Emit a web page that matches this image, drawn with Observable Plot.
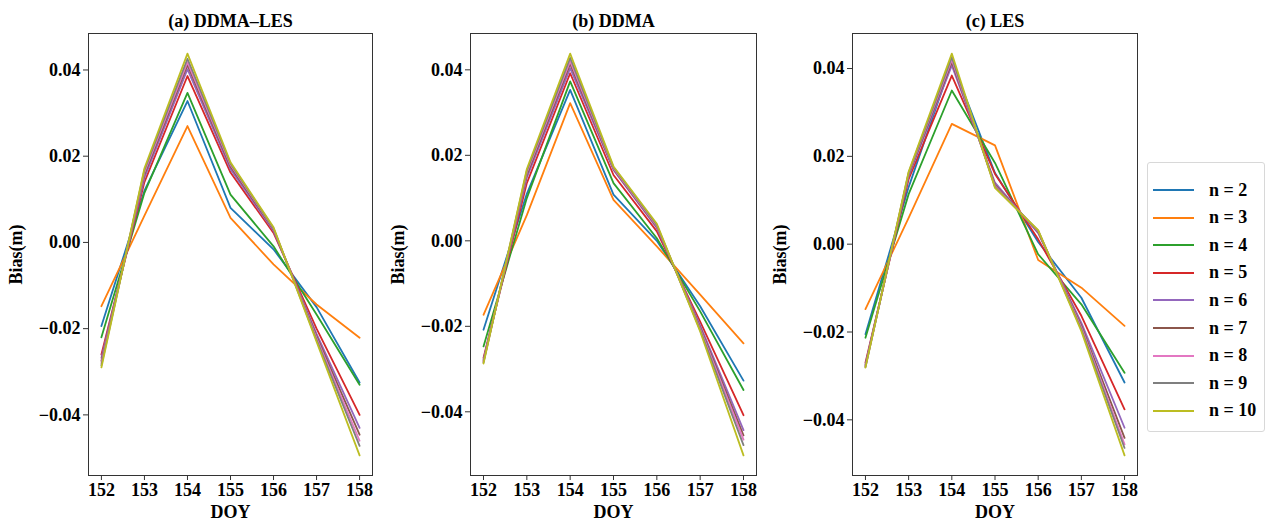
<!DOCTYPE html>
<html>
<head>
<meta charset="utf-8">
<script src="https://cdn.jsdelivr.net/npm/d3@7"></script>
<script src="https://cdn.jsdelivr.net/npm/@observablehq/plot@0.6"></script>
<style>
  html, body { margin: 0; padding: 0; background: #fff; overflow: hidden; }
  #root { position: relative; width: 1267px; height: 522px; font-family: "Liberation Serif", "DejaVu Serif", serif; font-weight: bold; }
  .panel { position: absolute; top: 0; }
  #legend { position: absolute; left: 1147px; top: 162px; width: 118px; height: 270px; border: 1px solid #d8d8d8; border-radius: 3px; background: #fff; box-sizing: border-box; }
  .entry { position: absolute; left: 0; height: 20px; display: flex; align-items: center; font-size: 18px; }
  .swatch { width: 41px; height: 2px; margin-left: 5px; margin-right: 15px; }
</style>
</head>
<body>
<div id="root"></div>
<script>
// ---- data ----
const doy = [152, 153, 154, 155, 156, 157, 158];
const nLabels = ["n = 2", "n = 3", "n = 4", "n = 5", "n = 6", "n = 7", "n = 8", "n = 9", "n = 10"];
const colors = ["#1f77b4", "#ff7f0e", "#2ca02c", "#d62728", "#9467bd", "#8c564b", "#e377c2", "#7f7f7f", "#bcbd22"];
const panelTitles = ["(a) DDMA\u2013LES", "(b) DDMA", "(c) LES"];
const yTicks = [-0.04, -0.02, 0, 0.02, 0.04];

// Bias per n (rows: n=2..10), columns: DOY 152..158
const ddmaLes = [
  [-0.0194, 0.0120, 0.0328, 0.0080, -0.0016, -0.0150, -0.0325],
  [-0.0148, 0.0062, 0.0270, 0.0057, -0.0051, -0.0144, -0.0221],
  [-0.0220, 0.0115, 0.0347, 0.0111, -0.0009, -0.0167, -0.0330],
  [-0.0260, 0.0140, 0.0386, 0.0162, 0.0022, -0.0200, -0.0400],
  [-0.0268, 0.0150, 0.0402, 0.0170, 0.0027, -0.0212, -0.0430],
  [-0.0275, 0.0158, 0.0412, 0.0176, 0.0030, -0.0218, -0.0446],
  [-0.0280, 0.0163, 0.0418, 0.0180, 0.0032, -0.0222, -0.0460],
  [-0.0285, 0.0168, 0.0426, 0.0183, 0.0033, -0.0226, -0.0472],
  [-0.0290, 0.0172, 0.0438, 0.0186, 0.0035, -0.0230, -0.0494]
];
const ddma = [
  [-0.0208, 0.0110, 0.0353, 0.0108, 0.0000, -0.0153, -0.0327],
  [-0.0173, 0.0060, 0.0322, 0.0096, -0.0013, -0.0126, -0.0240],
  [-0.0247, 0.0100, 0.0373, 0.0135, 0.0006, -0.0165, -0.0349],
  [-0.0274, 0.0135, 0.0392, 0.0154, 0.0022, -0.0189, -0.0408],
  [-0.0278, 0.0148, 0.0404, 0.0166, 0.0030, -0.0198, -0.0443],
  [-0.0281, 0.0155, 0.0414, 0.0168, 0.0033, -0.0203, -0.0455],
  [-0.0283, 0.0160, 0.0420, 0.0170, 0.0035, -0.0206, -0.0465],
  [-0.0285, 0.0164, 0.0428, 0.0172, 0.0037, -0.0209, -0.0478],
  [-0.0287, 0.0168, 0.0438, 0.0174, 0.0040, -0.0212, -0.0502]
];
const les = [
  [-0.0205, 0.0130, 0.0415, 0.0162, 0.0005, -0.0122, -0.0315],
  [-0.0148, 0.0060, 0.0274, 0.0225, -0.0036, -0.0099, -0.0186],
  [-0.0213, 0.0114, 0.0350, 0.0185, -0.0023, -0.0137, -0.0293],
  [-0.0270, 0.0148, 0.0384, 0.0160, 0.0011, -0.0163, -0.0376],
  [-0.0274, 0.0155, 0.0407, 0.0140, 0.0025, -0.0179, -0.0418],
  [-0.0277, 0.0158, 0.0415, 0.0135, 0.0028, -0.0186, -0.0441],
  [-0.0279, 0.0161, 0.0420, 0.0132, 0.0030, -0.0190, -0.0456],
  [-0.0280, 0.0163, 0.0426, 0.0130, 0.0031, -0.0194, -0.0464],
  [-0.0281, 0.0165, 0.0434, 0.0128, 0.0032, -0.0198, -0.0481]
];
const panelData = [ddmaLes, ddma, les];

// ---- layout (frame placement) ----
const frames = [
  {left: 88, width: 284},
  {left: 470, width: 286},
  {left: 852, width: 285}
];
const ML = 88;

const root = document.getElementById("root");

panelData.forEach((series, i) => {
  const rows = [];
  series.forEach((vals, s) => vals.forEach((v, j) => rows.push({doy: doy[j], bias: v, n: nLabels[s]})));
  const all = rows.map(d => d.bias);
  const lo = d3.min(all), hi = d3.max(all), pad = (hi - lo) * 0.05;
  const xlo = d3.min(doy), xhi = d3.max(doy), xpad = (xhi - xlo) * 0.05;

  const chart = Plot.plot({
    width: ML + frames[i].width + 2,
    height: 522,
    marginTop: 33,
    marginBottom: 47,
    marginLeft: ML,
    marginRight: 2,
    style: {fontFamily: "'Liberation Serif', serif", fontWeight: "bold", fontSize: "18px", color: "#000", background: "transparent", overflow: "visible"},
    x: {domain: [xlo - xpad, xhi + xpad]},
    y: {domain: [lo - pad, hi + pad]},
    color: {domain: nLabels, range: colors},
    marks: [
      Plot.line(rows, {x: "doy", y: "bias", z: "n", stroke: "n", strokeWidth: 1.8}),
      Plot.frame({stroke: "#333", strokeWidth: 1}),
      Plot.axisX({ticks: doy, tickFormat: d => String(d), tickSize: 5, tickPadding: 3, stroke: "#333",
        label: "DOY", labelAnchor: "center", labelArrow: "none", labelOffset: 42}),
      Plot.axisY({ticks: yTicks, tickFormat: d3.format(".2f"), tickSize: 5, tickPadding: 3, stroke: "#333",
        label: "Bias(m)", labelAnchor: "center", labelArrow: "none", labelOffset: 79}),
      Plot.text([panelTitles[i]], {frameAnchor: "top", dy: -19, fontSize: 18, fontWeight: "bold", fill: "#000"})
    ]
  });
  chart.classList.add("panel");
  chart.style.left = (frames[i].left - ML) + "px";
  root.appendChild(chart);
});

// ---- legend ----
const legend = document.createElement("div");
legend.id = "legend";
nLabels.forEach((lab, k) => {
  const e = document.createElement("div");
  e.className = "entry";
  e.style.top = (17 + k * 27.6) + "px";
  const sw = document.createElement("div");
  sw.className = "swatch";
  sw.style.background = colors[k];
  const t = document.createElement("span");
  t.textContent = lab;
  e.appendChild(sw);
  e.appendChild(t);
  legend.appendChild(e);
});
root.appendChild(legend);
</script>
</body>
</html>
